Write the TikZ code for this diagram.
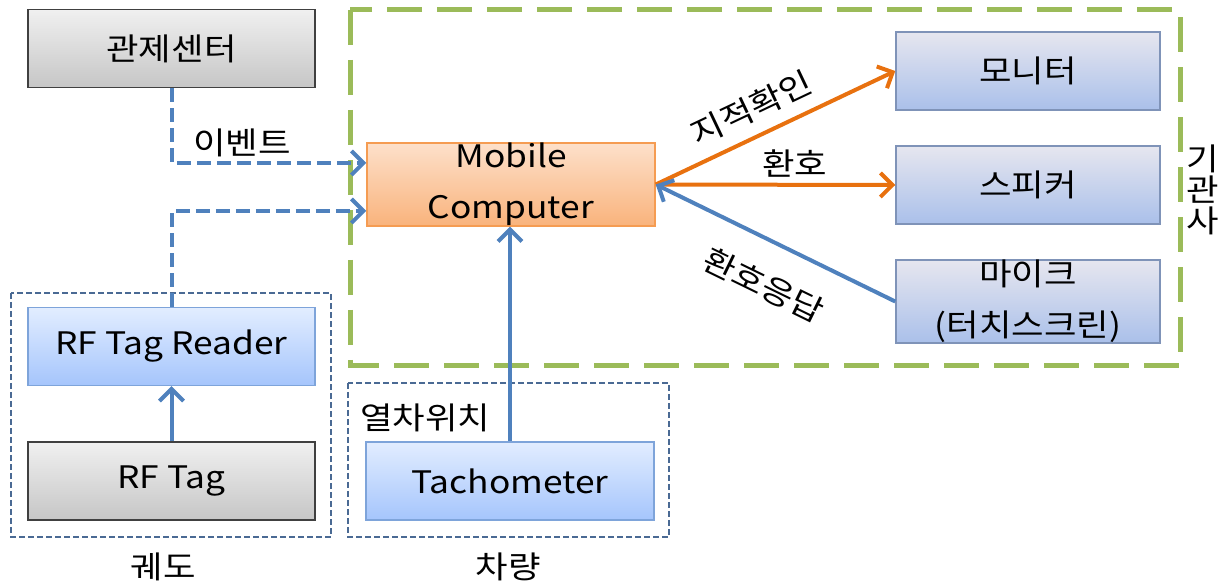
\documentclass[tikz,border=0pt]{standalone}
\usepackage{fontspec}
\setmainfont{Noto Sans CJK KR}[FakeStretch=1.14]
\usetikzlibrary{arrows.meta,calc}
\definecolor{cblue}{HTML}{4F81BD}
\definecolor{corange}{HTML}{E8710F}
\definecolor{cgreen}{HTML}{9BBB59}
\definecolor{cgrp}{HTML}{4A6A94}
\definecolor{lavtop}{HTML}{E6E6EF}
\definecolor{lavbot}{HTML}{AAC0EA}
\definecolor{lavdraw}{HTML}{7F93B8}
\definecolor{lbtop}{HTML}{E2EDFF}
\definecolor{lbbot}{HTML}{A5C5FC}
\definecolor{lbdraw}{HTML}{7EA4DA}
\definecolor{grtop}{HTML}{F0F0F0}
\definecolor{grbot}{HTML}{C6C6C6}
\definecolor{ortop}{HTML}{FDE0CA}
\definecolor{orbot}{HTML}{F9B37C}
\definecolor{ordraw}{HTML}{F59C52}
\newcommand{\bigtxt}{\fontsize{31}{37}\selectfont}
\newcommand{\twotxt}{\fontsize{31}{51}\selectfont}
\newcommand{\vtxt}{\fontsize{31}{31}\selectfont}
\tikzset{
  boxbase/.style={minimum width=287pt, minimum height=78pt, inner sep=0pt, align=center, font=\bigtxt, line width=1.5pt},
  graybox/.style={boxbase, draw=black!75, top color=grtop, bottom color=grbot},
  lavbox/.style={boxbase, minimum width=264pt, draw=lavdraw, top color=lavtop, bottom color=lavbot},
  ltbluebox/.style={boxbase, draw=lbdraw, top color=lbtop, bottom color=lbbot},
  orangebox/.style={boxbase, minimum width=288pt, draw=ordraw, top color=ortop, bottom color=orbot},
  greenframe/.style={draw=cgreen, line width=5pt, dash pattern=on 35pt off 15pt},
  grpframe/.style={draw=cgrp, line width=2pt, dash pattern=on 6pt off 3pt},
  tip/.style={-{Straight Barb[length=12pt,width=24pt]}},
  bdash/.style={tip, draw=cblue, line width=4pt, dash pattern=on 14pt off 6pt},
  bsolid/.style={tip, draw=cblue, line width=4pt},
  osolid/.style={tip, draw=corange, line width=4pt},
  lbl/.style={font=\bigtxt, inner sep=0pt},
}
\begin{document}
\begin{tikzpicture}[x=1pt,y=1pt]
\useasboundingbox (0,0) rectangle (1227,584);
% frames
\draw[greenframe] (350,574) rectangle (1180,218);
\draw[grpframe] (11,291) rectangle (331,47);
\draw[grpframe] (348,201) rectangle (669,47);
% nodes
\node[graybox] (gc) at (171.5,535.5) {관제센터};
\node[orangebox, font=\twotxt] (mc) at (511,399.5) {Mobile\\Computer};
\node[lavbox] (mon) at (1028,513) {모니터};
\node[lavbox] (spk) at (1028,399) {스피커};
\node[lavbox, font=\twotxt] (mic) at (1028,282.5) {마이크\\(터치스크린)};
\node[ltbluebox] (reader) at (171.5,237.5) {RF Tag Reader};
\node[graybox] (tag) at (171.5,103) {RF Tag};
\node[ltbluebox, minimum width=288pt] (tach) at (510,103) {Tachometer};
% labels
\node[lbl] (ev) at (242,441) {이벤트};
\node[lbl, anchor=west] (pos) at (360,166) {열차위치};
\node[lbl] (track) at (163,17) {궤도};
\node[lbl] (car) at (508,17) {차량};
\node[lbl, font=\vtxt, align=center] (drv) at (1203,394) {기\\관\\사};
% connectors
\draw[bdash] (gc.south) |- ([yshift=21.5pt]mc.west);
\draw[bdash] (reader.north) |- ([yshift=-26.5pt]mc.west);
\draw[bsolid] (tag.north) -- (reader.south);
\draw[bsolid] (tach.north) -- (tach.north |- mc.south);
\draw[osolid] (mc.east) -- node[lbl, sloped, above=12pt, pos=0.45] {지적확인} (mon.west);
\draw[osolid] (mc.east) -- node[lbl, above=5pt, pos=0.58] {환호} (spk.west);
\draw[bsolid] (mic.west) -- node[lbl, sloped, below=27pt, pos=0.47] {환호응답} (mc.east);
\end{tikzpicture}
\end{document}
